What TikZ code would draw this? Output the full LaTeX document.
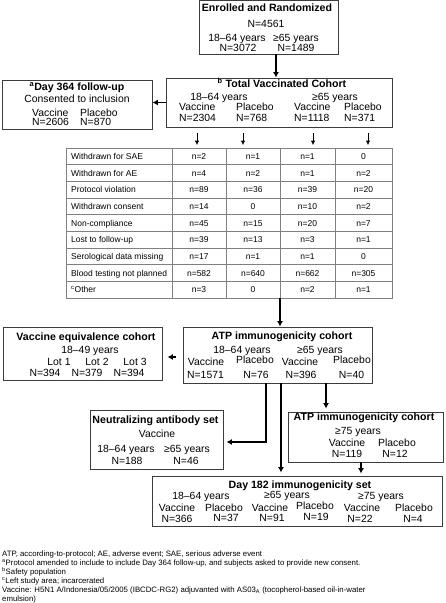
\documentclass[tikz,border=0pt]{standalone}
\usepackage{fontspec}
\setmainfont{Liberation Sans}
\usetikzlibrary{arrows.meta}
\definecolor{boxline}{HTML}{3C3C3C}
\definecolor{gridline}{HTML}{808080}

\begin{document}
\begin{tikzpicture}[x=1pt,y=-1pt,
    box/.style={draw=boxline,line width=0.9pt,inner sep=0pt},
    hd/.style={anchor=base,inner sep=0pt,font=\bfseries\fontsize{10.6}{12}\selectfont},
    txt/.style={anchor=base,inner sep=0pt,font=\fontsize{10.4}{12}\selectfont},
    cell/.style={anchor=base,inner sep=0pt,font=\fontsize{8.5}{9}\selectfont},
    note/.style={anchor=base west,inner sep=0pt,font=\fontsize{7.8}{9}\selectfont},
    bigarrow/.style={line width=1.8pt,-{Latex[length=5.5pt,width=6pt]}},
    smallarrow/.style={line width=0.8pt,-{Latex[length=4.5pt,width=4.5pt]}}]
    \useasboundingbox (0,0) rectangle (445,603);
    % Enrolled and randomized
    \node[box,minimum width=139pt,minimum height=53.5pt] (enroll) at (268.5,27.25) {};
    \node[hd] (enrollT) at (267,11) {Enrolled and Randomized};
    \node[txt] (enrollN) at (266,27) {N=4561};
    \node[txt] (enrollA) at (237,41) {18–64 years};
    \node[txt] (enrollB) at (296,41) {≥65 years};
    \node[txt] (enrollNA) at (238,51.5) {N=3072};
    \node[txt] (enrollNB) at (296,51.5) {N=1489};
    % Total vaccinated cohort
    \node[box,minimum width=226pt,minimum height=49pt] (tvc) at (279,102.5) {};
    \node[hd] (tvcT) at (282,87) {\textsuperscript{b} Total Vaccinated Cohort};
    \node[txt] (tvcA) at (219,100) {18–64 years};
    \node[txt] (tvcB) at (335,100) {≥65 years};
    \node[txt,anchor=base west] (tvcV1) at (179,110.5) {Vaccine};
    \node[txt,anchor=base west] (tvcP1) at (236,110.5) {Placebo};
    \node[txt,anchor=base west] (tvcV2) at (294,110.5) {Vaccine};
    \node[txt,anchor=base west] (tvcP2) at (344,110.5) {Placebo};
    \node[txt,anchor=base west] (tvcN1) at (179,121.5) {N=2304};
    \node[txt,anchor=base west] (tvcN2) at (236,121.5) {N=768};
    \node[txt,anchor=base west] (tvcN3) at (294,121.5) {N=1118};
    \node[txt,anchor=base west] (tvcN4) at (344,121.5) {N=371};
    % Day 364 follow-up
    \node[box,minimum width=150pt,minimum height=49pt] (d364) at (77,104.5) {};
    \node[hd] (d364T) at (77,90.5) {\textsuperscript{a}Day 364 follow-up};
    \node[txt] (d364C) at (77,102.5) {Consented to inclusion};
    \node[txt,anchor=base west] (d364V) at (32,116) {Vaccine};
    \node[txt,anchor=base west] (d364P) at (80,116) {Placebo};
    \node[txt,anchor=base west] (d364NV) at (32,125.5) {N=2606};
    \node[txt,anchor=base west] (d364NP) at (80,125.5) {N=870};
    % Withdrawals table
    \node[draw=gridline,line width=0.8pt,inner sep=0pt,minimum width=326pt,minimum height=150pt] (tbl) at (229,223) {};
    \foreach \r in {1,...,8}
        \draw[gridline,line width=0.8pt] (66,{148+\r*150/9}) -- (392,{148+\r*150/9});
    \foreach \x in {172,226,280,335}
        \draw[gridline,line width=0.8pt] (\x,148) -- (\x,298);
    \foreach \lab/\a/\b/\c/\d [count=\i] in {
        Withdrawn for SAE/n=2/n=1/n=1/0,
        Withdrawn for AE/n=4/n=2/n=1/n=2,
        Protocol violation/n=89/n=36/n=39/n=20,
        Withdrawn consent/n=14/0/n=10/n=2,
        Non-compliance/n=45/n=15/n=20/n=7,
        Lost to follow-up/n=39/n=13/n=3/n=1,
        Serological data missing/n=17/n=1/n=1/0,
        Blood testing not planned/n=582/n=640/n=662/n=305,
        {\textsuperscript{c}Other}/n=3/0/n=2/n=1} {
        \node[cell,anchor=base west] (lab\i) at (71,{148+(\i-0.5)*150/9+3}) {\lab};
        \node[cell] (ca\i) at (199,{148+(\i-0.5)*150/9+3}) {\a};
        \node[cell] (cb\i) at (253,{148+(\i-0.5)*150/9+3}) {\b};
        \node[cell] (cc\i) at (307.5,{148+(\i-0.5)*150/9+3}) {\c};
        \node[cell] (cd\i) at (363.5,{148+(\i-0.5)*150/9+3}) {\d};
    }
    % ATP immunogenicity cohort
    \node[box,minimum width=189pt,minimum height=56pt] (atp) at (277.5,355) {};
    \node[hd] (atpT) at (282,339.5) {ATP immunogenicity cohort};
    \node[txt] (atpA) at (242,353.5) {18–64 years};
    \node[txt] (atpB) at (320,353.5) {≥65 years};
    \node[txt] (atpV1) at (206,365.5) {Vaccine};
    \node[txt] (atpP1) at (255,363.5) {Placebo};
    \node[txt] (atpV2) at (300,365.5) {Vaccine};
    \node[txt] (atpP2) at (352,363.5) {Placebo};
    \node[txt] (atpN1) at (205.5,378.5) {N=1571};
    \node[txt] (atpN2) at (256,378.5) {N=76};
    \node[txt] (atpN3) at (301,378.5) {N=396};
    \node[txt] (atpN4) at (351.5,378.5) {N=40};
    % Vaccine equivalence cohort
    \node[box,minimum width=159pt,minimum height=53pt] (eqc) at (82.5,353.5) {};
    \node[hd] (eqcT) at (86,340.5) {Vaccine equivalence cohort};
    \node[txt] (eqcA) at (90,353.5) {18–49 years};
    \node[txt] (eqcL1) at (59,365.5) {Lot 1};
    \node[txt] (eqcL2) at (97,365.5) {Lot 2};
    \node[txt] (eqcL3) at (135,365.5) {Lot 3};
    \node[txt] (eqcN1) at (45,376.5) {N=394};
    \node[txt] (eqcN2) at (87,376.5) {N=379};
    \node[txt] (eqcN3) at (129,376.5) {N=394};
    % Neutralizing antibody set
    \node[box,minimum width=133pt,minimum height=59pt] (nab) at (156.5,439.5) {};
    \node[hd] (nabT) at (155.5,423.5) {Neutralizing antibody set};
    \node[txt] (nabV) at (157,437.5) {Vaccine};
    \node[txt] (nabA) at (126,452.5) {18–64 years};
    \node[txt] (nabB) at (187,452.5) {≥65 years};
    \node[txt] (nabNA) at (127,464.5) {N=188};
    \node[txt] (nabNB) at (186,464.5) {N=46};
    % ATP immunogenicity cohort, 75 and over
    \node[box,minimum width=155pt,minimum height=50pt] (atpold) at (365.5,437) {};
    \node[hd] (atpoldT) at (364,420.5) {ATP immunogenicity cohort};
    \node[txt] (atpoldA) at (358,434.5) {≥75 years};
    \node[txt] (atpoldV) at (347,446.5) {Vaccine};
    \node[txt] (atpoldP) at (397,446.5) {Placebo};
    \node[txt] (atpoldNV) at (347,457.5) {N=119};
    \node[txt] (atpoldNP) at (395,457.5) {N=12};
    % Day 182 immunogenicity set
    \node[box,minimum width=290pt,minimum height=50pt] (dayset) at (297,501) {};
    \node[hd] (daysetT) at (300,488.5) {Day 182 immunogenicity set};
    \node[txt] (daysetA) at (201,499.5) {18–64 years};
    \node[txt] (daysetB) at (287,498.5) {≥65 years};
    \node[txt] (daysetC) at (381,499) {≥75 years};
    \node[txt] (daysetV1) at (177,511) {Vaccine};
    \node[txt] (daysetP1) at (224,511) {Placebo};
    \node[txt] (daysetV2) at (270,511) {Vaccine};
    \node[txt] (daysetP2) at (315,509.5) {Placebo};
    \node[txt] (daysetV3) at (362,511.5) {Vaccine};
    \node[txt] (daysetP3) at (414,511.5) {Placebo};
    \node[txt] (daysetN1) at (177,522) {N=366};
    \node[txt] (daysetN2) at (226,521.5) {N=37};
    \node[txt] (daysetN3) at (272,521.5) {N=91};
    \node[txt] (daysetN4) at (316,520.5) {N=19};
    \node[txt] (daysetN5) at (360,522.5) {N=22};
    \node[txt] (daysetN6) at (413,522.5) {N=4};
    % Flow
    \draw[bigarrow] ([xshift=-3pt]tvc.north |- enroll.south) -- ([xshift=-3pt]tvc.north);
    \draw[bigarrow] (tvc.west) -- (tvc.west -| d364.east);
    \foreach \x [count=\i] in {197,243,313,368}
        \coordinate (drop\i) at (\x,140);
    \foreach \i in {1,...,4}
        \draw[smallarrow] ([yshift=-6pt]tvc.south -| drop\i) -- ([yshift=2.5pt]tbl.north -| drop\i);
    \draw[bigarrow] ([xshift=2.5pt]atp.north |- tbl.south) -- ([xshift=2.5pt]atp.north);
    \draw[bigarrow,shorten <=7pt,shorten >=5pt] ([yshift=-2pt]atp.west) -- ([yshift=-2pt]atp.west -| eqc.east);
    \draw[bigarrow,shorten >=3pt] ([xshift=-11.5pt]atp.south) |- ([yshift=-2.5pt]nab.east);
    \draw[bigarrow,shorten >=3pt] ([xshift=3.5pt]atp.south) -- ([xshift=3.5pt]atp.south |- dayset.north);
    \draw[bigarrow,shorten >=3pt] ([xshift=-39.5pt]atpold.north |- atp.south) -- ([xshift=-39.5pt]atpold.north);
    \draw[bigarrow,shorten >=2pt] ([xshift=-4.5pt]atpold.south) -- ([xshift=-4.5pt]atpold.south |- dayset.north);
    % Footnotes
    \node[note] (fn1) at (2,556) {ATP, according-to-protocol; AE, adverse event; SAE, serious adverse event};
    \node[note] (fn2) at (2,565.4) {\textsuperscript{a}Protocol amended to include to include Day 364 follow-up, and subjects asked to provide new consent.};
    \node[note] (fn3) at (2,574.4) {\textsuperscript{b}Safety population};
    \node[note] (fn4) at (2,583.6) {\textsuperscript{c}Left study area; incarcerated};
    \node[note] (fn5) at (2,592.6) {Vaccine: H5N1 A/Indonesia/05/2005 (IBCDC-RG2) adjuvanted with AS03\textsubscript{A} (tocopherol-based oil-in-water};
    \node[note] (fn6) at (2,601.5) {emulsion)};
\end{tikzpicture}
\end{document}
